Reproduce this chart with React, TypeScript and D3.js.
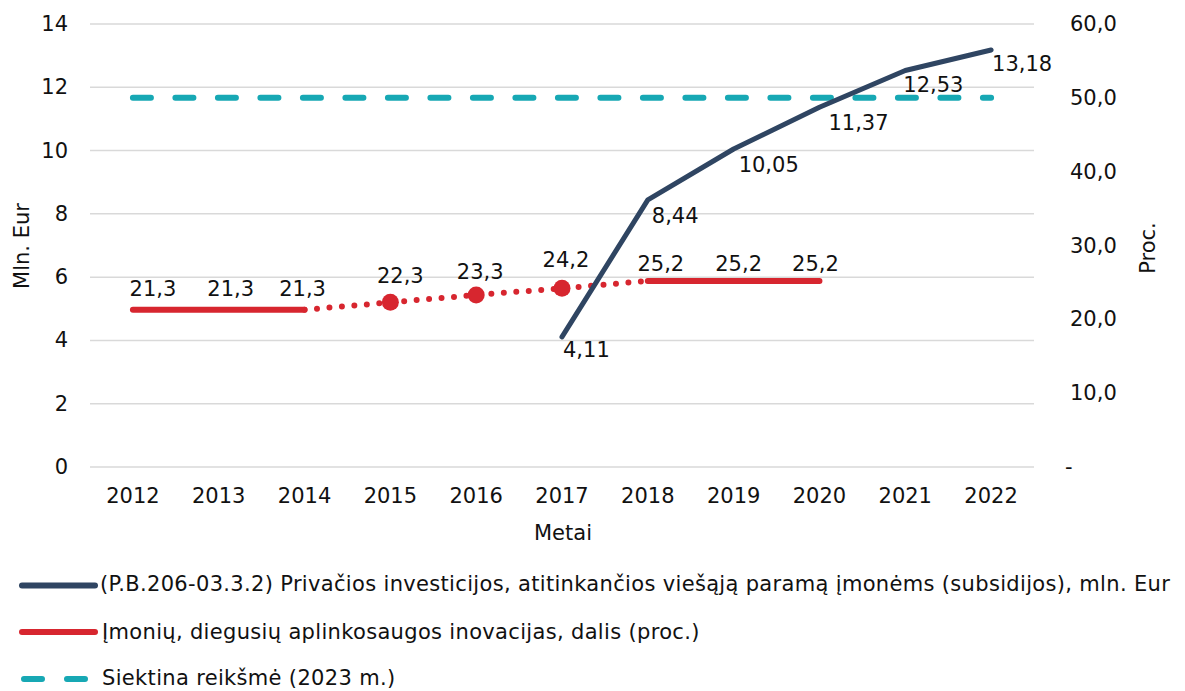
import React from "react";
import { scaleBand, scaleLinear, line } from "d3";

// years on the x axis
const years = ["2012", "2013", "2014", "2015", "2016", "2017", "2018", "2019", "2020", "2021", "2022"];

// private investments, mln. Eur (left axis), 2017-2022
const investYears = ["2017", "2018", "2019", "2020", "2021", "2022"];
const investValues = [4.11, 8.44, 10.05, 11.37, 12.53, 13.18];

// share of companies with environmental innovations, % (right axis), 2012-2020
const shareYears = ["2012", "2013", "2014", "2015", "2016", "2017", "2018", "2019", "2020"];
const shareValues = [21.3, 21.3, 21.3, 22.3, 23.3, 24.2, 25.2, 25.2, 25.2];
const estimatedYears = ["2015", "2016", "2017"];

// target value (2023), % (right axis)
const targetValue = 50;

const leftTicks = [0, 2, 4, 6, 8, 10, 12, 14];
const rightTicks = [0, 10, 20, 30, 40, 50, 60];

const legendLabels = [
  "(P.B.206-03.3.2) Privačios investicijos, atitinkančios viešąją paramą įmonėms (subsidijos), mln. Eur",
  "Įmonių, diegusių aplinkosaugos inovacijas, dalis (proc.)",
  "Siektina reikšmė (2023 m.)",
];

const W = 1185;
const H = 691;
const plot = { left: 90, right: 1034, top: 24, bottom: 467 };

const navy = "#2f4562";
const red = "#d7262f";
const teal = "#17a8b4";
const grid = "#d9d9d9";
const ink = "#111";
const font = "'DejaVu Sans', Verdana, sans-serif";
const fs = 21;

// small nudges for data labels, placement only
const shareLabelShift = [[20, -14], [12, -14], [-2, -14], [10, -19], [4, -16], [4, -21], [13, -10], [5, -10], [-4, -10]];
const investLabelShift = [[1, 20], [4, 23], [5, 23], [9, 23], [-2, 21], [1, 21]];

const fmt = (v: number, d: number) => v.toFixed(d).replace(".", ",");

export default function App() {
  const x = scaleBand<string>().domain(years).range([plot.left, plot.right]);
  const cx = (yr: string) => (x(yr) ?? 0) + x.bandwidth() / 2;
  const yL = scaleLinear().domain([0, 14]).range([plot.bottom, plot.top]);
  const yR = scaleLinear().domain([0, 60]).range([plot.bottom, plot.top]);

  const investPts = investYears.map((yr, i) => [cx(yr), yL(investValues[i])] as [number, number]);
  const sharePts = shareYears.map((yr, i) => [cx(yr), yR(shareValues[i])] as [number, number]);
  const lineGen = line<[number, number]>();

  const i2014 = shareYears.indexOf("2014");
  const i2018 = shareYears.indexOf("2018");
  const solidA = sharePts.slice(0, i2014 + 1);
  const dotted = sharePts.slice(i2014, i2018 + 1);
  const solidB = sharePts.slice(i2018);

  const targetY = yR(targetValue);

  return (
    <svg width={W} height={H} style={{ display: "block", position: "absolute", left: 0, top: 0 }} fontFamily={font}>
      <rect width={W} height={H} fill="#fff" />
      {leftTicks.map((t) => (
        <g key={t}>
          <line x1={plot.left} x2={plot.right} y1={yL(t)} y2={yL(t)} stroke={grid} strokeWidth={1.5} />
          <text x={68} y={yL(t)} textAnchor="end" dominantBaseline="central" fontSize={fs} fill={ink}>
            {t}
          </text>
        </g>
      ))}
      {rightTicks.map((t) => (
        <text key={t} x={t === 0 ? 1065 : 1070} y={yR(t)} dominantBaseline="central" fontSize={fs} fill={ink}>
          {t === 0 ? "-" : fmt(t, 1)}
        </text>
      ))}
      {years.map((yr) => (
        <text key={yr} x={cx(yr)} y={496} textAnchor="middle" dominantBaseline="central" fontSize={fs} fill={ink}>
          {yr}
        </text>
      ))}
      <text x={563} y={533} textAnchor="middle" dominantBaseline="central" fontSize={fs} fill={ink}>
        Metai
      </text>
      <text transform="translate(22,246) rotate(-90)" textAnchor="middle" dominantBaseline="central" fontSize={fs} fill={ink}>
        Mln. Eur
      </text>
      <text transform="translate(1148,248) rotate(-90)" textAnchor="middle" dominantBaseline="central" fontSize={fs} fill={ink}>
        Proc.
      </text>

      {/* target */}
      <line x1={cx(years[0])} x2={cx(years[years.length - 1])} y1={targetY} y2={targetY}
        stroke={teal} strokeWidth={6} strokeDasharray="18 24.5" strokeLinecap="round" />

      {/* share line */}
      <path d={lineGen(solidA) ?? ""} fill="none" stroke={red} strokeWidth={6} strokeLinecap="round" />
      <path d={lineGen(solidB) ?? ""} fill="none" stroke={red} strokeWidth={6} strokeLinecap="round" />
      <path d={lineGen(dotted) ?? ""} fill="none" stroke={red} strokeWidth={6} strokeDasharray="0 12.5" strokeLinecap="round" />
      {estimatedYears.map((yr) => {
        const i = shareYears.indexOf(yr);
        return <circle key={yr} cx={sharePts[i][0]} cy={sharePts[i][1]} r={8.5} fill={red} />;
      })}

      {/* investments line */}
      <path d={lineGen(investPts) ?? ""} fill="none" stroke={navy} strokeWidth={5} strokeLinecap="round" strokeLinejoin="round" />

      {sharePts.map((p, i) => (
        <text key={"s" + i} x={p[0] + shareLabelShift[i][0]} y={p[1] + shareLabelShift[i][1]} textAnchor="middle" fontSize={fs} fill={ink}>
          {fmt(shareValues[i], 1)}
        </text>
      ))}
      {investPts.map((p, i) => (
        <text key={"v" + i} x={p[0] + investLabelShift[i][0]} y={p[1] + investLabelShift[i][1]} fontSize={fs} fill={ink}>
          {fmt(investValues[i], 2)}
        </text>
      ))}

      {/* legend */}
      <line x1={22} x2={95} y1={585.5} y2={585.5} stroke={navy} strokeWidth={6} strokeLinecap="round" />
      <text x={100} y={584} dominantBaseline="central" fontSize={fs} letterSpacing={0.33} fill={ink}>{legendLabels[0]}</text>
      <line x1={22} x2={95} y1={632} y2={632} stroke={red} strokeWidth={6} strokeLinecap="round" />
      <text x={102} y={632} dominantBaseline="central" fontSize={fs} letterSpacing={0.33} fill={ink}>{legendLabels[1]}</text>
      <line x1={24} x2={86} y1={679} y2={679} stroke={teal} strokeWidth={6} strokeDasharray="18 25" strokeLinecap="round" />
      <text x={102} y={678} dominantBaseline="central" fontSize={fs} letterSpacing={0.33} fill={ink}>{legendLabels[2]}</text>
    </svg>
  );
}
